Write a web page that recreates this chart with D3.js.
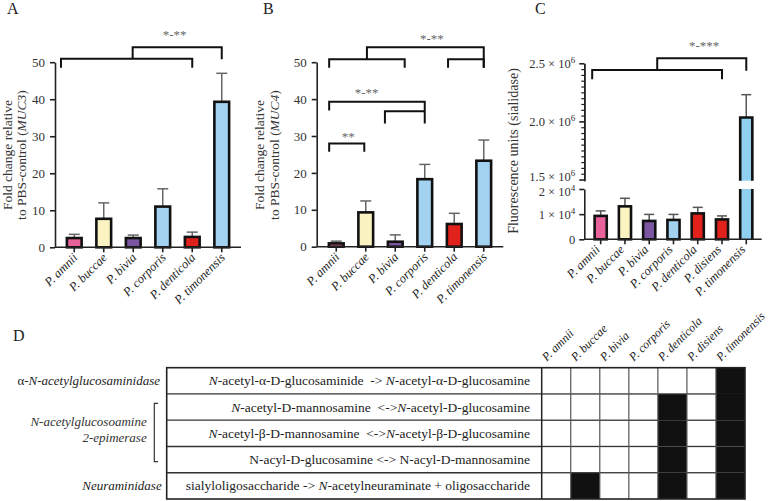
<!DOCTYPE html>
<html>
<head>
<meta charset="utf-8">
<script src="https://cdn.jsdelivr.net/npm/d3@7"></script>
<style>
  html, body { margin: 0; padding: 0; background: #fff; }
  svg, svg text { font-family: "Liberation Serif", "Times New Roman", serif; }
</style>
</head>
<body>
<svg id="chart" width="770" height="501"></svg>
<script>
// ---------------- DATA ----------------
const speciesAB = ["P. amnii", "P. buccae", "P. bivia", "P. corporis", "P. denticola", "P. timonensis"];
const speciesC  = ["P. amnii", "P. buccae", "P. bivia", "P. corporis", "P. denticola", "P. disiens", "P. timonensis"];
const colorsAB  = ["#e8619b", "#fbf4c2", "#7b56a1", "#a3d2f0", "#e1211b", "#a3d2f0"];
const colorsC   = ["#e8619b", "#fbf4c2", "#7b56a1", "#a3d2f0", "#e1211b", "#e1211b", "#8fcff0"];

const valuesA = [2.5, 7.7, 2.5, 11.0, 2.8, 39.3];
const errorsA = [1.0, 4.3, 0.8, 4.8, 1.3, 7.7];
const valuesB = [0.9, 9.3, 1.35, 18.3, 6.15, 23.3];
const errorsB = [0.6, 3.1, 1.85, 4.0, 2.9, 5.6];
const valuesC = [9300, 13100, 7300, 7700, 10300, 7900, 2034000];
const errorsC = [2000, 3200, 2600, 2200, 2400, 1400, 196000];

const yTicksAB = [0, 10, 20, 30, 40, 50];
const yTicksCLow = [0, 10000, 20000];
const yTickLabelsCLow = [["0", ""], ["1 × 10", "4"], ["2 × 10", "4"]];
const yTicksCHigh = [1500000, 2000000, 2500000];
const yTickLabelsCHigh = [["1.5 × 10", "6"], ["2.0 × 10", "6"], ["2.5 × 10", "6"]];

// significance brackets: x in category-index units, y in data units
const bracketsA = [
  { x1: -0.45, x2: 4, top: 50.9, left: 48.5, right: 48.5 },
  { x1: 1.98, x2: 5, top: 54.05, left: 50.9, right: 50.8 }
];
const sigTextA = [{ x: 3.4, y: 56.3, t: "*-**" }];
const bracketsB = [
  { x1: -0.24, x2: 2.32, top: 50.8, left: 48.5, right: 48.5 },
  { x1: 3.79, x2: 5.0, top: 50.8, left: 48.5, right: 48.5 },
  { x1: 1.04, x2: 5.0, top: 54.05, left: 50.8, right: 48.5 },
  { x1: -0.24, x2: 3.0, top: 39.3, left: 36.9, right: 33.4 },
  { x1: 1.65, x2: 3.0, top: 36.7, left: 33.4, right: 36.7 },
  { x1: -0.24, x2: 0.95, top: 28.0, left: 25.75, right: 25.75 }
];
const sigTextB = [
  { x: 3.24, y: 55.3, t: "*-**" },
  { x: 1.03, y: 40.6, t: "*-**" },
  { x: 0.41, y: 28.7, t: "**" }
];
const bracketsC = [
  { x1: -0.35, x2: 5.0, top: 2442000, left: 2362000, right: 2362000 },
  { x1: 2.33, x2: 6.0, top: 2543000, left: 2442000, right: 2436000 }
];
const sigTextC = [{ x: 4.26, y: 2614000, t: "*-***" }];

// Panel D
const enzymeRows = [
  [{ t: "N", i: true }, { t: "-acetyl-α-D-glucosaminide  -> " }, { t: "N", i: true }, { t: "-acetyl-α-D-glucosamine" }],
  [{ t: "N", i: true }, { t: "-acetyl-D-mannosamine  <->" }, { t: "N", i: true }, { t: "-acetyl-D-glucosamine" }],
  [{ t: "N", i: true }, { t: "-acetyl-β-D-mannosamine  <->" }, { t: "N", i: true }, { t: "-acetyl-β-D-glucosamine" }],
  [{ t: "N-acyl-D-glucosamine <-> N-acyl-D-mannosamine" }],
  [{ t: "sialyloligosaccharide -> " }, { t: "N", i: true }, { t: "-acetylneuraminate + oligosaccharide" }]
];
const presence = [
  [0, 0, 0, 0, 0, 0, 1],
  [0, 0, 0, 0, 1, 0, 1],
  [0, 0, 0, 0, 1, 0, 1],
  [0, 0, 0, 0, 1, 0, 1],
  [0, 1, 0, 0, 1, 0, 1]
];

// ---------------- DRAWING ----------------
const SERIF = "'Liberation Serif', 'Times New Roman', serif";
const svg = d3.select("#chart").attr("font-family", SERIF);
svg.append("rect").attr("width", 770).attr("height", 501).attr("fill", "#fff");

const AX = "#222";
const FONT = 13;

function panelLetter(t, x, y) {
  svg.append("text").attr("x", x).attr("y", y).attr("font-size", 16).attr("fill", "#222").text(t);
}

function styleAxis(g) {
  g.attr("font-family", SERIF);
  g.selectAll("path.domain").attr("stroke", AX).attr("stroke-width", 1.6);
  g.selectAll(".tick line").attr("stroke", AX).attr("stroke-width", 1.6);
  g.selectAll(".tick text").attr("font-family", SERIF).attr("font-size", FONT).attr("fill", "#333");
}

function xLabels(x, cats, axisY, dx, dy) {
  cats.forEach(c => {
    const cx = x(c) + x.bandwidth() / 2 + dx;
    const cy = axisY + dy;
    svg.append("text")
      .attr("transform", `translate(${cx},${cy}) rotate(-45)`)
      .attr("text-anchor", "end")
      .attr("font-style", "italic")
      .attr("font-size", 12.5)
      .attr("fill", "#222")
      .text(c);
  });
}

function drawBrackets(x, y, brackets, texts) {
  const step = x.step();
  const x0 = x(x.domain()[0]) + x.bandwidth() / 2;
  const px = v => x0 + v * step;
  brackets.forEach(b => {
    const p = d3.path();
    p.moveTo(px(b.x1), y(b.left));
    p.lineTo(px(b.x1), y(b.top));
    p.lineTo(px(b.x2), y(b.top));
    p.lineTo(px(b.x2), y(b.right));
    svg.append("path").attr("d", p.toString()).attr("fill", "none")
      .attr("stroke", "#111").attr("stroke-width", 2);
  });
  texts.forEach(s => {
    svg.append("text").attr("x", px(s.x)).attr("y", y(s.y))
      .attr("text-anchor", "middle").attr("font-size", 13).attr("fill", "#666").text(s.t);
  });
}

function barPanel(opts) {
  const { cats, vals, errs, colors, xRange, axisX, axisXEnd, yRange, yTicks } = opts;
  const x = d3.scaleBand().domain(cats).range(xRange).paddingInner(0.5).paddingOuter(0.25);
  const y = d3.scaleLinear().domain([0, 50]).range(yRange);
  cats.forEach((c, i) => {
    const bx = x(c), bw = x.bandwidth();
    const ex = bx + bw / 2;
    svg.append("line").attr("x1", ex).attr("x2", ex).attr("y1", y(vals[i])).attr("y2", y(vals[i] + errs[i]))
      .attr("stroke", "#666").attr("stroke-width", 1.5);
    svg.append("line").attr("x1", ex - 5.5).attr("x2", ex + 5.5).attr("y1", y(vals[i] + errs[i])).attr("y2", y(vals[i] + errs[i]))
      .attr("stroke", "#666").attr("stroke-width", 1.5);
    svg.append("rect").attr("x", bx).attr("y", y(vals[i])).attr("width", bw).attr("height", y(0) - y(vals[i]))
      .attr("fill", colors[i]).attr("stroke", "#111").attr("stroke-width", 2.6);
  });
  const gy = svg.append("g").attr("transform", `translate(${axisX},0)`)
    .call(d3.axisLeft(y).tickValues(yTicks).tickSize(5).tickPadding(5).tickSizeOuter(0));
  styleAxis(gy);
  const gx = svg.append("g").attr("transform", `translate(0,${y(0)})`)
    .call(d3.axisBottom(x).tickSize(5).tickFormat(""));
  gx.select("path.domain").remove();
  styleAxis(gx);
  svg.append("line").attr("x1", axisX).attr("x2", axisXEnd).attr("y1", y(0)).attr("y2", y(0))
    .attr("stroke", AX).attr("stroke-width", 1.6);
  return { x, y };
}

// ---- Panel A ----
panelLetter("A", 7, 14);
const A = barPanel({ cats: speciesAB, vals: valuesA, errs: errorsA, colors: colorsAB,
  xRange: [59.5, 236.5], axisX: 55, axisXEnd: 241, yRange: [247.3, 62.2], yTicks: yTicksAB });
xLabels(A.x, speciesAB, A.y(0), 4, 11);
drawBrackets(A.x, A.y, bracketsA, sigTextA);
{
  const t = svg.append("text").attr("transform", "translate(12,155) rotate(-90)")
    .attr("text-anchor", "middle").attr("font-size", 13.5).attr("fill", "#333");
  t.text("Fold change relative");
  const t2 = svg.append("text").attr("transform", "translate(25.5,155) rotate(-90)")
    .attr("text-anchor", "middle").attr("font-size", 13.5).attr("fill", "#333");
  t2.append("tspan").text("to PBS-control (");
  t2.append("tspan").attr("font-style", "italic").text("MUC3");
  t2.append("tspan").text(")");
}

// ---- Panel B ----
panelLetter("B", 263, 14);
const B = barPanel({ cats: speciesAB, vals: valuesB, errs: errorsB, colors: colorsAB,
  xRange: [321.5, 498.5], axisX: 316.7, axisXEnd: 503.3, yRange: [246.7, 62.2], yTicks: yTicksAB });
xLabels(B.x, speciesAB, B.y(0), 4, 11);
drawBrackets(B.x, B.y, bracketsB, sigTextB);
{
  const t = svg.append("text").attr("transform", "translate(264,155) rotate(-90)")
    .attr("text-anchor", "middle").attr("font-size", 13.5).attr("fill", "#333");
  t.text("Fold change relative");
  const t2 = svg.append("text").attr("transform", "translate(279,155) rotate(-90)")
    .attr("text-anchor", "middle").attr("font-size", 13.5).attr("fill", "#333");
  t2.append("tspan").text("to PBS-control (");
  t2.append("tspan").attr("font-style", "italic").text("MUC4");
  t2.append("tspan").text(")");
}

// ---- Panel C (broken axis) ----
panelLetter("C", 535, 14);
{
  const axisX = 584.3;
  const x = d3.scaleBand().domain(speciesC).range([588.55, 758.4]).paddingInner(0.5).paddingOuter(0.25);
  const yLow = d3.scaleLinear().domain([0, 20000]).range([239.3, 189]);
  const yHigh = d3.scaleLinear().domain([1490000, 2500000]).range([180.7, 63.3]);
  const lowTop = yLow.range()[1], highBot = yHigh.range()[0];

  speciesC.forEach((c, i) => {
    const bx = x(c), bw = x.bandwidth(), ex = bx + bw / 2;
    const v = valuesC[i], e = valuesC[i] + errorsC[i];
    if (v <= 20000) {
      svg.append("line").attr("x1", ex).attr("x2", ex).attr("y1", yLow(v)).attr("y2", yLow(e))
        .attr("stroke", "#555").attr("stroke-width", 1.5);
      svg.append("line").attr("x1", ex - 5).attr("x2", ex + 5).attr("y1", yLow(e)).attr("y2", yLow(e))
        .attr("stroke", "#555").attr("stroke-width", 1.5);
      svg.append("rect").attr("x", bx).attr("y", yLow(v)).attr("width", bw).attr("height", yLow(0) - yLow(v))
        .attr("fill", colorsC[i]).attr("stroke", "#111").attr("stroke-width", 2.6);
    } else {
      svg.append("line").attr("x1", ex).attr("x2", ex).attr("y1", yHigh(v)).attr("y2", yHigh(e))
        .attr("stroke", "#555").attr("stroke-width", 1.5);
      svg.append("line").attr("x1", ex - 5).attr("x2", ex + 5).attr("y1", yHigh(e)).attr("y2", yHigh(e))
        .attr("stroke", "#555").attr("stroke-width", 1.5);
      svg.append("rect").attr("x", bx).attr("y", lowTop).attr("width", bw).attr("height", yLow(0) - lowTop)
        .attr("fill", colorsC[i]);
      svg.append("path").attr("d", `M${bx},${yLow(0)}V${lowTop}M${bx + bw},${yLow(0)}V${lowTop}`)
        .attr("stroke", "#111").attr("stroke-width", 2.6).attr("fill", "none");
      svg.append("rect").attr("x", bx).attr("y", yHigh(v)).attr("width", bw).attr("height", highBot - yHigh(v))
        .attr("fill", colorsC[i]);
      svg.append("path").attr("d", `M${bx},${highBot}V${yHigh(v)}H${bx + bw}V${highBot}`)
        .attr("stroke", "#111").attr("stroke-width", 2.6).attr("fill", "none");
    }
  });

  const minors = d3.range(1500000, 2500001, 50000).filter(v => !yTicksCHigh.includes(v));
  const gMin = svg.append("g").attr("transform", `translate(${axisX},0)`)
    .call(d3.axisLeft(yHigh).tickValues(minors).tickSize(3).tickFormat("").tickSizeOuter(0));
  styleAxis(gMin);
  gMin.selectAll(".tick line").attr("stroke-width", 1.2);
  const gHi = svg.append("g").attr("transform", `translate(${axisX},0)`)
    .call(d3.axisLeft(yHigh).tickValues(yTicksCHigh).tickSize(5).tickPadding(4).tickSizeOuter(0));
  styleAxis(gHi);
  gHi.selectAll(".tick text").attr("font-size", 12.5).each(function (d, i) {
    const s = d3.select(this).text("");
    s.append("tspan").text(yTickLabelsCHigh[i][0]);
    s.append("tspan").attr("dy", -5).attr("font-size", 9).text(yTickLabelsCHigh[i][1]);
  });
  gHi.selectAll(".tick").filter(d => d === 1500000).select("text").attr("dy", "0.1em");
  const gLo = svg.append("g").attr("transform", `translate(${axisX},0)`)
    .call(d3.axisLeft(yLow).tickValues(yTicksCLow).tickSize(5).tickPadding(4).tickSizeOuter(0));
  styleAxis(gLo);
  gLo.selectAll(".tick text").attr("font-size", 12.5).each(function (d, i) {
    const s = d3.select(this).text("");
    s.append("tspan").text(yTickLabelsCLow[i][0]);
    if (yTickLabelsCLow[i][1]) s.append("tspan").attr("dy", -5).attr("font-size", 9).text(yTickLabelsCLow[i][1]);
  });
  gLo.selectAll(".tick").filter(d => d === 20000).select("text").attr("dy", "0.55em");
  const gx = svg.append("g").attr("transform", `translate(0,${yLow(0)})`)
    .call(d3.axisBottom(x).tickSize(5).tickFormat(""));
  gx.select("path.domain").remove();
  styleAxis(gx);
  svg.append("line").attr("x1", axisX).attr("x2", 761.7).attr("y1", yLow(0)).attr("y2", yLow(0))
    .attr("stroke", AX).attr("stroke-width", 1.6);
  xLabels(x, speciesC, yLow(0), 0, 11);
  drawBrackets(x, yHigh, bracketsC, sigTextC);

  svg.append("text").attr("transform", "translate(518,151) rotate(-90)")
    .attr("text-anchor", "middle").attr("font-size", 14).attr("fill", "#333")
    .text("Fluorescence units (sialidase)");
}

// ---- Panel D (table) ----
panelLetter("D", 13, 341);
{
  const textLeft = 166.7, textRight = 541.7;
  const cx = d3.scaleBand().domain(speciesC).range([541.7, 745]);
  const ry = d3.scaleBand().domain(d3.range(enzymeRows.length)).range([367.7, 499]);
  const g = svg.append("g");

  presence.forEach((row, r) => row.forEach((v, c) => {
    if (v) g.append("rect").attr("x", cx(speciesC[c])).attr("y", ry(r))
      .attr("width", cx.bandwidth()).attr("height", ry.bandwidth()).attr("fill", "#111");
  }));
  for (let r = 1; r < enzymeRows.length; r++) {
    const yy = ry(r);
    g.append("line").attr("x1", textLeft).attr("x2", textRight).attr("y1", yy).attr("y2", yy)
      .attr("stroke", "#333").attr("stroke-width", 1.3);
    speciesC.forEach((s, c) => {
      if (presence[r][c] && presence[r - 1][c]) return;
      g.append("line").attr("x1", cx(s)).attr("x2", cx(s) + cx.bandwidth()).attr("y1", yy).attr("y2", yy)
        .attr("stroke", "#333").attr("stroke-width", 1.3);
    });
  }
  speciesC.forEach((s, c) => {
    if (c === 0) return;
    g.append("line").attr("x1", cx(s)).attr("x2", cx(s)).attr("y1", ry(0)).attr("y2", ry.range()[1])
      .attr("stroke", "#555").attr("stroke-width", 1.2);
  });
  g.append("line").attr("x1", textRight).attr("x2", textRight).attr("y1", ry(0)).attr("y2", ry.range()[1])
    .attr("stroke", "#222").attr("stroke-width", 1.5);
  g.append("rect").attr("x", textLeft).attr("y", ry(0)).attr("width", 745 - textLeft)
    .attr("height", ry.range()[1] - ry(0)).attr("fill", "none").attr("stroke", "#222").attr("stroke-width", 1.6);

  enzymeRows.forEach((segs, r) => {
    const t = g.append("text").attr("x", 530).attr("y", ry(r) + ry.bandwidth() / 2 + 4.5)
      .attr("text-anchor", "end").attr("font-size", 13.5).attr("fill", "#222")
      .attr("xml:space", "preserve");
    segs.forEach(s => {
      const ts = t.append("tspan").text(s.t);
      if (s.i) ts.attr("font-style", "italic");
    });
  });

  speciesC.forEach(s => {
    g.append("text").attr("transform", `translate(${cx(s) + 5},${ry(0) - 6}) rotate(-45)`)
      .attr("font-style", "italic").attr("font-size", 12).attr("fill", "#222").text(s);
  });

  const e1 = g.append("text").attr("x", 160).attr("y", ry(0) + ry.bandwidth() / 2 + 4)
    .attr("text-anchor", "end").attr("font-size", 13).attr("fill", "#222");
  e1.append("tspan").text("α-");
  e1.append("tspan").attr("font-style", "italic").text("N-acetylglucosaminidase");
  g.append("text").attr("x", 146.7).attr("y", 426).attr("text-anchor", "end")
    .attr("font-size", 13).attr("font-style", "italic").attr("fill", "#333").text("N-acetylglucosoamine");
  g.append("text").attr("x", 146.7).attr("y", 441.5).attr("text-anchor", "end")
    .attr("font-size", 13).attr("font-style", "italic").attr("fill", "#333").text("2-epimerase");
  g.append("path").attr("d", "M158,403.3H154.3V461.7H158").attr("fill", "none")
    .attr("stroke", "#333").attr("stroke-width", 1.2);
  g.append("text").attr("x", 161.7).attr("y", ry(4) + ry.bandwidth() / 2 + 4)
    .attr("text-anchor", "end").attr("font-size", 13).attr("font-style", "italic").attr("fill", "#222")
    .text("Neuraminidase");
}
</script>
</body>
</html>
